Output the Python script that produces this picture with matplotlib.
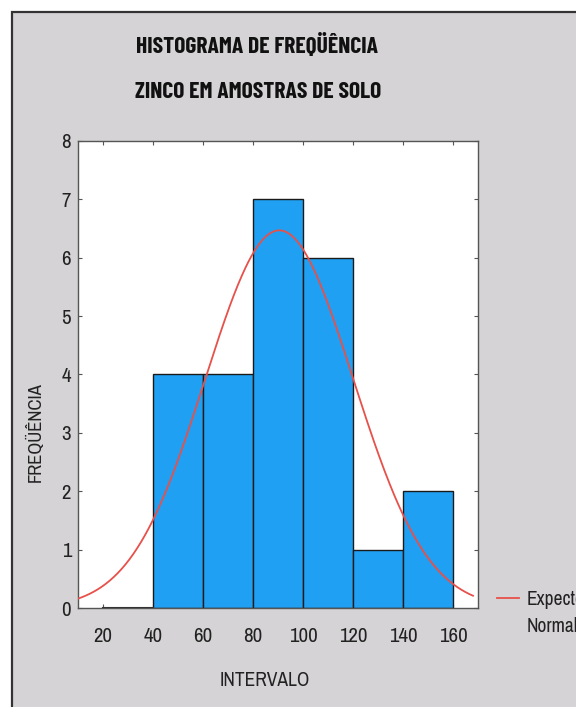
import numpy as np
import matplotlib
matplotlib.use("Agg")
import matplotlib.pyplot as plt
from matplotlib.patches import Rectangle
from matplotlib.lines import Line2D
from matplotlib import font_manager as fm

# ---- data ----
bin_edges = [20, 40, 60, 80, 100, 120, 140, 160]
counts = [0, 4, 4, 7, 6, 1, 2]
x_ticks = [20, 40, 60, 80, 100, 120, 140, 160]
y_ticks = [0, 1, 2, 3, 4, 5, 6, 7, 8]
normal_mean = 90.5
normal_sd = 29.6
n_obs = 24
bin_width = 20
title_lines = ["HISTOGRAMA DE FREQÜÊNCIA", "ZINCO EM AMOSTRAS DE SOLO"]
x_label = "INTERVALO"
y_label = "FREQÜÊNCIA"
legend_label = "Expected\nNormal"

available = {f.name for f in fm.fontManager.ttflist}
cands = ["Liberation Sans Narrow", "Arial Narrow", "Archivo Narrow", "PT Sans Narrow",
         "Roboto Condensed", "DejaVu Sans"]
FONT = [c for c in cands if c in available] or ["DejaVu Sans"]
if "DejaVu Sans" not in FONT:
    FONT.append("DejaVu Sans")
plt.rcParams['font.family'] = FONT
tcands = ["Liberation Sans Narrow", "Arial Narrow", "Barlow Condensed", "Asap Condensed",
          "Encode Sans Condensed"]
TFONT = [c for c in tcands if c in available] + FONT

W, H = 576, 707
fig = plt.figure(figsize=(W / 100, H / 100), dpi=100)
fig.patch.set_facecolor("white")

# gray panel with dark border on top/left
panel = Rectangle((12 / W, -0.01), 1.0, (H - 12) / H + 0.01, transform=fig.transFigure,
                  facecolor="#d5d3d5", edgecolor="#333333", linewidth=1.6, zorder=-5)
fig.patches.append(panel)

ax = fig.add_axes([78 / W, (H - 608) / H, 400 / W, 467 / H])
ax.set_zorder(2)
ax.set_facecolor("white")

lefts = bin_edges[:-1]
ax.bar(lefts, counts, width=bin_width, align="edge", color="#20a0f2",
       edgecolor="#1a1a1a", linewidth=1.0, zorder=2)
ax.plot([20, 40], [0, 0], color="#333333", lw=1.5, zorder=3)

xs = np.linspace(10, 168, 300)
ys = n_obs * bin_width * np.exp(-0.5 * ((xs - normal_mean) / normal_sd) ** 2) / (normal_sd * np.sqrt(2 * np.pi))
ax.plot(xs, ys, color="#e8504a", lw=1.3, zorder=4)

ax.set_xlim(10, 170)
ax.set_ylim(0, 8)
ax.set_xticks(x_ticks)
ax.set_yticks(y_ticks)
ax.tick_params(direction="in", length=3, width=0.8, color="#555555",
               top=True, right=True, labelsize=15, labelcolor="#222222")
ax.tick_params(axis="x", pad=14)
ax.tick_params(axis="y", pad=5)
for s in ax.spines.values():
    s.set_color("#555555")
    s.set_linewidth(1.0)

fig.text(257 / W, 1 - 45 / H, title_lines[0], ha="center", va="center",
         fontsize=17, fontweight="bold", color="#111111", family=TFONT)
fig.text(258 / W, 1 - 92 / H, title_lines[1], ha="center", va="center",
         fontsize=17, fontweight="bold", color="#111111", family=TFONT)
fig.text(265 / W, 1 - 681 / H, x_label, ha="center", va="center",
         fontsize=14, color="#222222")
fig.text(35 / W, 1 - 432 / H, y_label, ha="center", va="center",
         fontsize=13.5, color="#222222", rotation=90)

fig.lines.append(Line2D([497 / W, 519 / W], [1 - 598 / H, 1 - 598 / H],
                        transform=fig.transFigure, color="#e8504a", lw=1.3))
fig.text(527 / W, 1 - 613 / H, legend_label, ha="left", va="center",
         fontsize=14, color="#222222", linespacing=1.55)

fig.savefig("out.png", dpi=100, facecolor=fig.get_facecolor())
